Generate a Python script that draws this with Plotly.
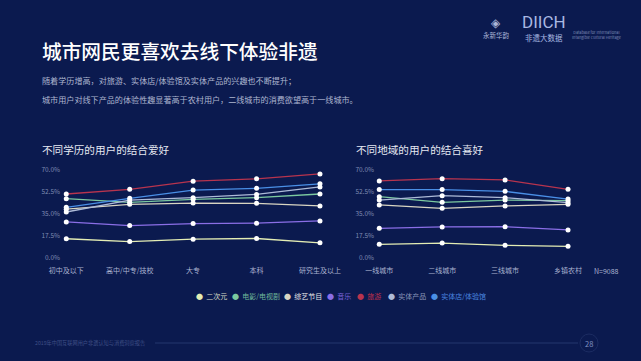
import plotly.graph_objects as go

# ---------------- data ----------------
edu_categories = ["初中及以下", "高中/中专/技校", "大专", "本科", "研究生及以上"]
region_categories = ["一线城市", "二线城市", "三线城市", "乡镇农村"]
series_names = ["二次元", "电影/电视剧", "综艺节目", "音乐", "旅游", "实体产品", "实体店/体验馆"]

edu_erciyuan = [15.3, 13.1, 15.0, 15.5, 12.1]
edu_movie = [47.2, 44.3, 46.7, 48.0, 50.9]
edu_variety = [38.8, 42.7, 43.7, 43.5, 41.4]
edu_music = [28.7, 25.8, 27.4, 27.7, 29.5]
edu_travel = [50.9, 54.6, 61.1, 63.0, 66.9]
edu_product = [36.6, 46.1, 48.0, 50.6, 56.5]
edu_store = [40.3, 47.5, 54.0, 55.4, 59.0]

reg_erciyuan = [10.9, 11.9, 10.1, 9.3]
reg_movie = [48.8, 44.3, 46.1, 45.6]
reg_variety = [42.2, 39.5, 41.4, 42.7]
reg_music = [23.6, 24.7, 24.9, 22.3]
reg_travel = [61.3, 63.1, 62.1, 54.6]
reg_product = [46.1, 49.6, 48.0, 44.0]
reg_store = [54.4, 54.4, 53.0, 46.9]

y_tickvals = [0, 17.5, 35, 52.5, 70]
y_ticktext = ["0.0%", "17.5%", "35.0%", "52.5%", "70.0%"]

edu_series = [edu_erciyuan, edu_movie, edu_variety, edu_music, edu_travel, edu_product, edu_store]
reg_series = [reg_erciyuan, reg_movie, reg_variety, reg_music, reg_travel, reg_product, reg_store]

# ---------------- styles ----------------
W, H = 641, 361
BG = "#0b1a4f"
FONT = "Noto Sans CJK SC"
line_colors = ["#e4edb4", "#7cc9a0", "#d9d5c2", "#8a6ee6", "#b8344e", "#aebbd8", "#4a8fe6"]
legend_text_colors = ["#d8dcc8", "#6fb89a", "#e8e8e8", "#7a62d8", "#c0304a", "#8a96b8", "#4a86e0"]


def px(x):
    return x / W


def py(y):
    return 1 - y / H


fig = go.Figure()

for name, vals, col in zip(series_names, edu_series, line_colors):
    fig.add_trace(go.Scatter(
        x=edu_categories, y=vals, mode="lines+markers", name=name,
        line=dict(color=col, width=1.3),
        marker=dict(color="white", size=5),
        xaxis="x", yaxis="y", showlegend=False, cliponaxis=False))

for name, vals, col in zip(series_names, reg_series, line_colors):
    fig.add_trace(go.Scatter(
        x=region_categories, y=vals, mode="lines+markers", name=name,
        line=dict(color=col, width=1.3),
        marker=dict(color="white", size=5),
        xaxis="x2", yaxis="y2", showlegend=False, cliponaxis=False))

ydom = [py(258), py(170)]
axis_common_y = dict(range=[0, 70], tickvals=y_tickvals, ticktext=y_ticktext,
                     showgrid=False, zeroline=False, showline=False, ticks="",
                     automargin=False,
                     tickfont=dict(size=6.5, color="#7f8ab2", family=FONT), domain=ydom,
                     fixedrange=True)
axis_common_x = dict(type="category", showgrid=False, zeroline=False, showline=False,
                     ticks="", automargin=False, ticklabelstandoff=7,
                     tickfont=dict(size=7, color="#aab3cf", family=FONT),
                     fixedrange=True)

annotations = []


def ann(x, y, text, size, color, xanchor="left", yanchor="middle", weight=None, family=FONT):
    f = dict(size=size, color=color, family=family)
    if weight:
        f["weight"] = weight
    annotations.append(dict(x=px(x), y=py(y), xref="paper", yref="paper", text=text,
                            showarrow=False, xanchor=xanchor, yanchor=yanchor, font=f))


# Titles and subtitles
ann(40, 50, "城市网民更喜欢去线下体验非遗", 19.7, "white", weight=500)
ann(40, 81, "随着学历增高，对旅游、实体店/体验馆及实体产品的兴趣也不断提升；", 8.1, "#aeb6d0")
ann(40, 99, "城市用户对线下产品的体验性趣显著高于农村用户，二线城市的消费欲望高于一线城市。", 8.1, "#aeb6d0")
ann(40, 149, "不同学历的用户的结合爱好", 10.6, "#e6e9f2")
ann(354, 149, "不同地域的用户的结合喜好", 10.6, "#e6e9f2")
ann(606, 271, "N=9088", 7, "#aab3cf", xanchor="center")

# Logo area
ann(496, 21, "◈", 12, "#aab6d8", xanchor="center")
ann(496, 35, "永新华韵", 6.5, "#aab6d8", xanchor="center")
ann(544, 22, "DIICH", 17, "#a9b8e2", xanchor="center", family="Roboto")
ann(544, 37, "非遗大数据", 7.5, "#a9b8e2", xanchor="center")
ann(570, 35, "Database for International<br>Intangible Cultural Heritage", 3.8, "#7f8cb8")

# Legend (manual)
legend_x = [194, 230, 282, 325, 355, 386, 429]
for name, x, dot, tc in zip(series_names, legend_x, line_colors, legend_text_colors):
    ann(x, 296, f"<span style='color:{dot}'>●</span>  <span style='color:{tc}'>{name}</span>", 7, tc)

# Footer
ann(33, 343, "2019年中国互联网用户非遗认知与消费洞察报告", 5.2, "#3f4f86")
ann(589, 343, "28", 7.5, "#8090c0", xanchor="center")

shapes = [
    dict(type="line", xref="paper", yref="paper", x0=px(155), x1=px(578), y0=py(343), y1=py(343),
         line=dict(color="#24376e", width=1)),
    dict(type="circle", xref="paper", yref="paper", x0=px(580), x1=px(598), y0=py(352), y1=py(334),
         line=dict(color="#1c2c62", width=1)),
]

fig.update_layout(
    template="none",
    width=W, height=H,
    margin=dict(l=0, r=0, t=0, b=0, autoexpand=False),
    paper_bgcolor=BG, plot_bgcolor=BG,
    showlegend=False,
    font=dict(family=FONT),
    xaxis=dict(domain=[px(65), px(339)], range=[-0.02, 4.3], anchor="y", **axis_common_x),
    yaxis=dict(anchor="x", ticklabelstandoff=4, **axis_common_y),
    xaxis2=dict(domain=[px(378), px(605)], range=[-0.02, 3.588], anchor="y2", **axis_common_x),
    yaxis2=dict(anchor="x2", ticklabelstandoff=3, **axis_common_y),
    annotations=annotations,
    shapes=shapes,
)

fig.write_html("out.html", config={"displayModeBar": False},
               post_script="document.body.style.margin='0';document.body.style.background='" + BG + "';")
